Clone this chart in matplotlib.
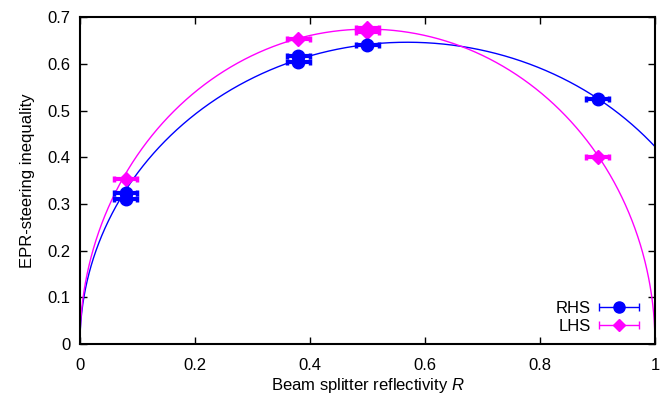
import matplotlib
matplotlib.use("Agg")
import matplotlib.pyplot as plt
import numpy as np
from matplotlib.container import ErrorbarContainer
from matplotlib.legend_handler import HandlerErrorbar

plt.rcParams["font.family"] = ["Liberation Sans", "DejaVu Sans"]
plt.rcParams["mathtext.fontset"] = "custom"
plt.rcParams["mathtext.it"] = "Liberation Sans:italic"

# measured points (reflectivity, inequality value, x error)
rhs_r = [0.08, 0.08, 0.38, 0.38, 0.50, 0.90]
rhs_v = [0.323, 0.310, 0.617, 0.605, 0.642, 0.525]
rhs_err = [0.02, 0.02, 0.02, 0.02, 0.02, 0.02]

lhs_r = [0.08, 0.38, 0.50, 0.50, 0.90]
lhs_v = [0.354, 0.653, 0.677, 0.668, 0.401]
lhs_err = [0.02, 0.02, 0.02, 0.02, 0.02]

# fitted model parameters: v = sqrt(a*R*(1-R) + b*R^2)
rhs_fit = (1.47, 0.179)
lhs_fit = (1.35 ** 2, 0.0)

BLUE = "#0000ff"
MAGENTA = "#ff00ff"


def model(r, a, b):
    return np.sqrt(np.clip(a * r * (1 - r) + b * r ** 2, 0, None))


fig = plt.figure(figsize=(6.66, 3.97), dpi=100)
ax = fig.add_axes([0.12, 0.1335, 0.8635, 0.8225])

rr = np.linspace(0, 1, 2000)
ax.plot(rr, model(rr, *rhs_fit), color=BLUE, lw=1.0, zorder=2)
ax.plot(rr, model(rr, *lhs_fit), color=MAGENTA, lw=1.0, zorder=2)

ax.errorbar(rhs_r, rhs_v, xerr=rhs_err, fmt="o", color=BLUE, ms=9, elinewidth=3,
            capsize=2.5, capthick=2.5, zorder=4)
ax.errorbar(lhs_r, lhs_v, xerr=lhs_err, fmt="D", color=MAGENTA, ms=7.5, elinewidth=3,
            capsize=2.5, capthick=2.5, zorder=3)

# legend proxies with thin error bars
h_rhs = ax.errorbar([np.nan], [np.nan], xerr=[0.01], fmt="o", color=BLUE, ms=8,
                    elinewidth=1, capsize=3, capthick=1, label="RHS")
h_lhs = ax.errorbar([np.nan], [np.nan], xerr=[0.01], fmt="D", color=MAGENTA, ms=6.5,
                    elinewidth=1, capsize=3, capthick=1, label="LHS")

ax.set_xlim(0, 1)
ax.set_ylim(0, 0.7)
ax.set_xticks([0, 0.2, 0.4, 0.6, 0.8, 1])
ax.set_xticklabels(["0", "0.2", "0.4", "0.6", "0.8", "1"])
ax.set_yticks(np.arange(0, 0.71, 0.1))
ax.set_yticklabels(["0", "0.1", "0.2", "0.3", "0.4", "0.5", "0.6", "0.7"])
ax.tick_params(direction="in", top=True, right=True, length=5, width=1.0,
               labelsize=12)
ax.tick_params(axis="x", pad=10)
ax.tick_params(axis="y", pad=7)
for s in ax.spines.values():
    s.set_linewidth(1.5)

ax.set_xlabel("Beam splitter reflectivity $R$", fontsize=12, labelpad=2)
ax.set_ylabel("EPR-steering inequality", fontsize=12, labelpad=9)

ax.legend(handles=[h_rhs, h_lhs], loc="lower right", bbox_to_anchor=(0.995, -0.005),
          frameon=False, markerfirst=False, fontsize=12, handlelength=2.6,
          handletextpad=0.4, labelspacing=0.2, borderaxespad=0.3,
          handler_map={ErrorbarContainer: HandlerErrorbar(xerr_size=1.2)})

fig.savefig("out.png", dpi=100)
